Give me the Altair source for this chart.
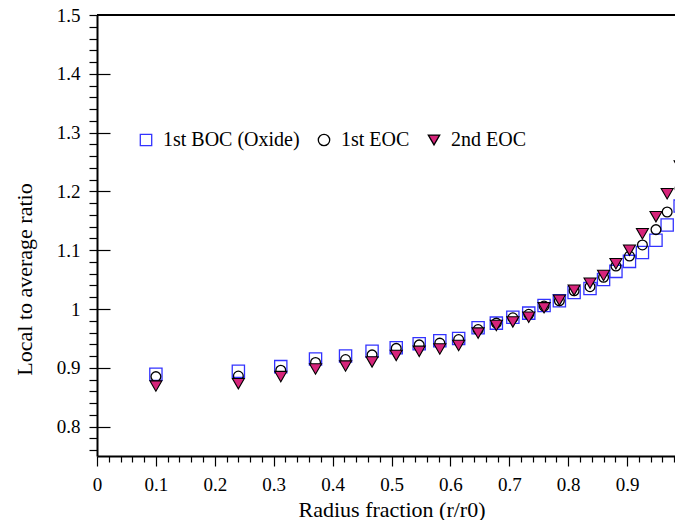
import altair as alt
import pandas as pd

# ---- data ----
radius = [0.1, 0.24, 0.312, 0.371, 0.422, 0.467, 0.508, 0.547, 0.582, 0.614,
          0.647, 0.678, 0.706, 0.733, 0.759, 0.785, 0.810, 0.837, 0.860, 0.881,
          0.904, 0.926, 0.949, 0.968, 0.990]
boc1 = [0.889, 0.894, 0.902, 0.915, 0.920, 0.928, 0.934, 0.941, 0.946, 0.950,
        0.968, 0.976, 0.986, 0.993, 1.006, 1.014, 1.028, 1.035, 1.050, 1.064,
        1.081, 1.096, 1.117, 1.143, 1.175]
eoc1 = [0.885, 0.886, 0.896, 0.909, 0.914, 0.922, 0.933, 0.939, 0.942, 0.948,
        0.965, 0.976, 0.985, 0.991, 1.005, 1.014, 1.031, 1.038, 1.054, 1.073,
        1.090, 1.109, 1.135, 1.165, 1.205]
eoc2 = [0.869, 0.873, 0.885, 0.898, 0.903, 0.910, 0.921, 0.928, 0.932, 0.938,
        0.959, 0.972, 0.978, 0.986, 1.002, 1.015, 1.032, 1.044, 1.057, 1.077,
        1.100, 1.128, 1.157, 1.196, 1.243]
series_names = ["1st BOC (Oxide)", "1st EOC", "2nd EOC"]

x_major = [0, 0.1, 0.2, 0.3, 0.4, 0.5, 0.6, 0.7, 0.8, 0.9]
x_minor = [round(k / 100, 2) for k in range(2, 100, 2) if k % 10 != 0]
y_major = [0.8, 0.9, 1, 1.1, 1.2, 1.3, 1.4, 1.5]
y_inner = [0.8, 0.9, 1, 1.1, 1.2, 1.3, 1.4]
y_minor = [round(k / 100, 2) for k in range(76, 150, 2) if k % 10 != 0]

FONT = "Liberation Serif"

# the original frame runs to r/r0 = 1 just past the window edge;
# the visible part of the plot ends at about 0.981
X_VISIBLE_MAX = 0.9813
PLOT_W = 578
PLOT_H = 441

def frame(vals, name):
    return pd.DataFrame({"r": radius, "v": vals, "series": name})

df_s = frame(boc1, series_names[0])
df_c = frame(eoc1, series_names[1])
df_t = frame(eoc2, series_names[2])

xscale = alt.Scale(domain=[0, X_VISIBLE_MAX], nice=False, zero=False)
yscale = alt.Scale(domain=[0.75, 1.5], nice=False, zero=False)

shape_enc = alt.Shape("series:N", title=None,
                      scale=alt.Scale(domain=series_names,
                                      range=["square", "circle", "triangle-down"]))
fill_enc = alt.Fill("series:N", title=None,
                    scale=alt.Scale(domain=series_names,
                                    range=["transparent", "transparent", "#d6247a"]))
stroke_enc = alt.Stroke("series:N", title=None,
                        scale=alt.Scale(domain=series_names,
                                        range=["#3333ff", "#000000", "#000000"]))

common_axis = dict(grid=False, tickColor="black", tickWidth=1.2,
                   domainColor="black", domainWidth=2)

# squares: main axes with labels and titles
layer_s = alt.Chart(df_s).mark_point(size=150, filled=True, opacity=1, strokeWidth=1.3).encode(
    x=alt.X("r:Q", scale=xscale, axis=alt.Axis(
        orient="bottom", values=x_major, tickSize=10, labelExpr="'' + datum.value",
        labelFlush=False, labelOverlap=False, labelPadding=18, labelBaseline="middle",
        title="Radius fraction (r/r0)", titleX=294.5, titleY=53,
        titleAlign="center", titleBaseline="middle", **common_axis)),
    y=alt.Y("v:Q", scale=yscale, axis=alt.Axis(
        orient="left", values=y_major, tickSize=8, labelExpr="'' + datum.value",
        labelFlush=False, labelOverlap=False, labelPadding=9,
        title="Local to average ratio", titleX=-73, titleY=264, titleAngle=270,
        titleAlign="center", titleBaseline="middle", **common_axis)),
    shape=shape_enc, fill=fill_enc, stroke=stroke_enc,
)

# circles: minor tick axes
layer_c = alt.Chart(df_c).mark_point(size=95, filled=True, opacity=1, strokeWidth=1.3).encode(
    x=alt.X("r:Q", scale=xscale, axis=alt.Axis(
        orient="bottom", values=x_minor, tickSize=6, labels=False, domain=False,
        title=None, grid=False, tickColor="black", tickWidth=1.2)),
    y=alt.Y("v:Q", scale=yscale, axis=alt.Axis(
        orient="left", values=y_minor, tickSize=8, labels=False, domain=False,
        title=None, grid=False, tickColor="black", tickWidth=1.2)),
    shape=shape_enc, fill=fill_enc, stroke=stroke_enc,
)

# triangles: inward major ticks on the y axis
layer_t = alt.Chart(df_t).mark_point(size=144, filled=True, opacity=1, strokeWidth=1.1).encode(
    x=alt.X("r:Q", scale=xscale, axis=None),
    y=alt.Y("v:Q", scale=yscale, axis=alt.Axis(
        orient="left", values=y_inner, tickSize=13, offset=-13, labels=False,
        domain=False, title=None, grid=False, tickColor="black", tickWidth=1.2)),
    shape=shape_enc, fill=fill_enc, stroke=stroke_enc,
)

# top frame line (the right edge of the frame lies outside the window)
top_line = alt.Chart(df_s).mark_rule(color="black", strokeWidth=1.6).encode(
    x=alt.value(0), x2=alt.value(PLOT_W), y=alt.value(0)
)

chart = alt.layer(layer_s, layer_c, layer_t, top_line).resolve_axis(
    x="independent", y="independent"
).properties(
    width=PLOT_W, height=PLOT_H,
    padding={"left": 89, "top": 7, "right": 0, "bottom": 64},
    autosize=alt.AutoSizeParams(type="none"),
    background="white",
).configure_axis(
    labelFont=FONT, labelFontSize=19, labelColor="black",
    titleFont=FONT, titleFontSize=22, titleFontWeight="normal", titleColor="black",
).configure_legend(
    orient="none", legendX=39, legendY=115, direction="horizontal",
    labelFont=FONT, labelFontSize=20, labelColor="black", labelLimit=400,
    symbolSize=130, symbolStrokeWidth=1.3, labelOffset=7, columnPadding=14,
).configure_view(stroke=None)

chart.save("out.html", embed_options={"renderer": "svg", "actions": False})
